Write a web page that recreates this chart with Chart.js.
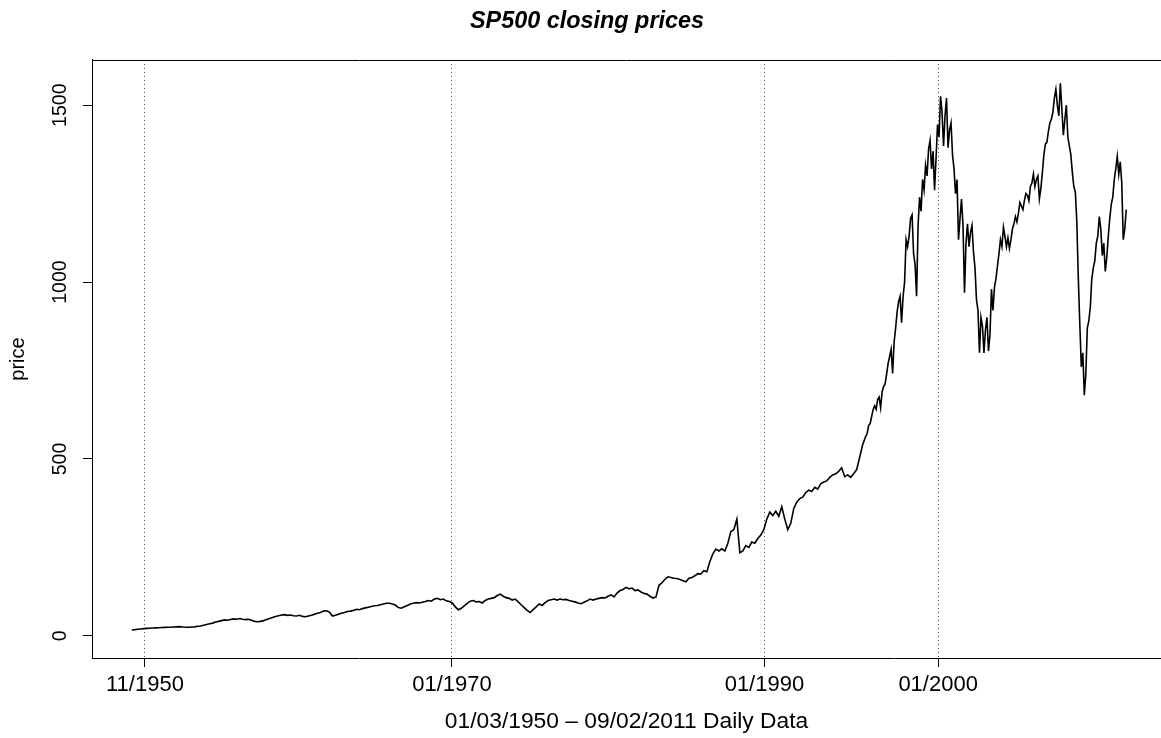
<!DOCTYPE html>
<html>
<head>
<meta charset="utf-8">
<script src="https://cdn.jsdelivr.net/npm/chart.js@4/dist/chart.umd.min.js"></script>
<style>
  html, body { margin: 0; padding: 0; background: #fff; overflow: hidden; }
  canvas { display: block; }
</style>
</head>
<body>
<canvas id="c" width="1161" height="738"></canvas>
<script>
// S&P 500 closing prices, sampled evenly along the observation index (01/03/1950 - 09/02/2011)
const prices = [
  16.7,17.5,18.5,19.5,20.5,21,21.5,22,22.5,23,
  23.5,24,24.5,24.5,25,25.5,26,25,24.5,24.5,
  25,25.5,27,28,30,32,34,36,39,41,
  43,45,44,46,48,47,49,47,46,47,
  44,41,40,41,43,46,49,52,55,57,
  59,60,58,59,57,56,58,55,54,56,
  58,61,64,66,70,71,67,56,58,61,
  64,66,69,70,72,75,74,77,79,81,
  83,85,86,88,90,92,92,90,87,80,
  78,82,86,90,92,94,93,95,97,100,
  98,104,106,102,104,99,97,93,82,74,
  78,85,92,98,100,96,97,93,100,104,
  106,108,114,118,112,108,106,101,104,96,
  88,80,72,66,74,82,90,86,94,100,
  102,104,101,104,102,103,100,98,96,93,
  91,95,99,104,101,104,106,108,107,112,
  116,110,121,128,131,137,133,135,128,130,
  124,120,118,112,107,110,143,150,160,167,
  165,163,162,159,156,153,163,165,170,176,
  175,184,181,210,232,245,240,246,240,262,
  295,300,330,235,240,255,250,265,262,275,
  285,300,330,350,340,352,338,365,330,300,
  318,360,378,388,392,405,412,408,420,415,
  430,435,438,448,455,458,465,475,450,455,
  448,458,470,505,540,563,595,620,650,668,
  645,705,740,790,742,870,945,885,1000,1100,
  1180,1080,960,1240,1290,1330,1375,1320,1260,1445,
  1525,1385,1520,1430,1360,1250,1120,1235,970,1165,
  1140,1085,950,800,875,865,805,980,985,1045,
  1120,1155,1100,1095,1150,1185,1195,1215,1230,1245,
  1270,1305,1290,1235,1310,1390,1425,1460,1520,1500,
  1562,1415,1500,1385,1310,1255,1010,760,680,870,
  930,1040,1110,1185,1075,1030,1130,1220,1290,1355,
  1340,1120,1205
];

// extra half-step readings in the volatile stretch (between samples 245 and 332)
const midStart = 245;
const pricesMid = [
  572,600,640,640,675,690,712,770,810,830,
  915,960,960,1120,1130,1190,1050,1160,1200,1260,
  1300,1400,1370,1350,1410,1480,1470,1380,1450,1320,
  1290,1180,1160,1110,1100,1160,1040,920,900,800,
  900,850,920,1010,1080,1100,1130,1125,1120,1165,
  1170,1225,1205,1250,1230,1280,1270,1300,1265,1360,
  1395,1450,1480,1545,1470,1490,1460,1410,1360,1270,
  1170,880,800,740,890,1010,1060,1130,1150,1110,
  1070,1180,1240,1320,1305,1280,1150
];

// x-axis tick positions (in sample index units) and their labels
const xTickPos = [4.4, 106.9, 211.2, 269.2];
const xTickLabels = ["11/1950", "01/1970", "01/1990", "01/2000"];
const xView = [-13.28, 343.6];

// y-axis ticks and limits
const yTickValues = [0, 500, 1000, 1500];
const yLimits = [0, 1565.2];

const titleText = "SP500 closing prices";
const xTitle = "01/03/1950 \u2013 09/02/2011 Daily Data";
const yTitle = "price";

const FONT = "'Liberation Sans', Arial, Helvetica, sans-serif";
const yr = yLimits[1] - yLimits[0];

const points = [];
prices.forEach((p, i) => {
  points.push({ x: i, y: p });
  const m = i - midStart;
  if (m >= 0 && m < pricesMid.length) points.push({ x: i + 0.5, y: pricesMid[m] });
});

const framePlugin = {
  id: 'frame',
  afterDraw(chart) {
    const { ctx, chartArea: { left, top, right } } = chart;
    ctx.save();
    ctx.strokeStyle = '#000';
    ctx.lineWidth = 1;
    ctx.beginPath();
    ctx.moveTo(left, top + 0.5);
    ctx.lineTo(right, top + 0.5);
    ctx.stroke();
    ctx.restore();
  }
};

new Chart(document.getElementById('c'), {
  type: 'line',
  data: {
    datasets: [{
      data: points,
      borderColor: '#000',
      borderWidth: 1.6,
      pointRadius: 0,
      tension: 0,
      fill: false
    }]
  },
  options: {
    responsive: false,
    animation: false,
    events: [],
    layout: { padding: { left: 13, right: 0, top: 0, bottom: 0 } },
    plugins: {
      legend: { display: false },
      tooltip: { enabled: false },
      title: {
        display: true,
        text: titleText,
        color: '#000',
        font: { family: FONT, size: 23.4, weight: 'bold', style: 'italic' },
        padding: { top: 7.8, bottom: 24.1 }
      }
    },
    scales: {
      x: {
        type: 'linear',
        min: xView[0],
        max: xView[1],
        afterBuildTicks: (scale) => { scale.ticks = xTickPos.map(v => ({ value: v })); },
        afterFit: (scale) => { scale.height = 80; },
        ticks: {
          autoSkip: false,
          maxRotation: 0,
          minRotation: 0,
          padding: 4.5,
          color: '#000',
          font: { family: FONT, size: 22 },
          callback: (v, i) => xTickLabels[i]
        },
        grid: {
          display: true,
          drawOnChartArea: true,
          color: '#555',
          lineWidth: 1,
          drawTicks: true,
          tickLength: 9,
          tickColor: '#000',
          tickWidth: 1
        },
        border: { display: true, color: '#000', width: 1, dash: [1, 3] },
        title: {
          display: true,
          text: xTitle,
          color: '#000',
          font: { family: FONT, size: 22.8 },
          padding: { top: 0, bottom: 2.3 }
        }
      },
      y: {
        type: 'linear',
        min: yLimits[0] - 0.04 * yr,
        max: yLimits[1] + 0.04 * yr,
        afterBuildTicks: (scale) => { scale.ticks = yTickValues.map(v => ({ value: v })); },
        afterFit: (scale) => { scale.width = 79; },
        ticks: {
          autoSkip: false,
          minRotation: 90,
          maxRotation: 90,
          crossAlign: 'center',
          padding: 1,
          color: '#000',
          font: { family: FONT, size: 19.5 },
          callback: (v) => String(v)
        },
        grid: {
          display: true,
          drawOnChartArea: false,
          drawTicks: true,
          tickLength: 9,
          tickColor: '#000',
          tickWidth: 1
        },
        border: { display: true, color: '#000', width: 1 },
        title: {
          display: true,
          text: yTitle,
          color: '#000',
          font: { family: FONT, size: 20 },
          padding: { top: -7, bottom: 0 }
        }
      }
    }
  },
  plugins: [framePlugin]
});
</script>
</body>
</html>
